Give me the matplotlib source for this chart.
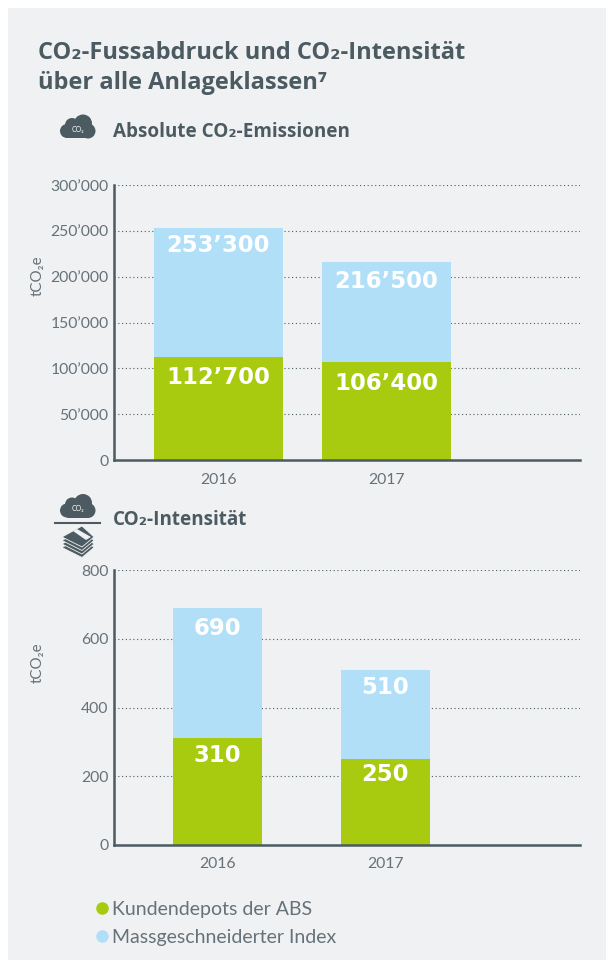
import matplotlib
matplotlib.use("Agg")
import matplotlib.pyplot as plt
from matplotlib.patches import Rectangle, Circle, Polygon
from matplotlib.lines import Line2D

W, H = 606, 960
plt.rcParams['font.family'] = ['Lato', 'Noto Sans', 'DejaVu Sans']
HEAD = ['Open Sans', 'DejaVu Sans']
VALF = ['DejaVu Sans']

years = ['2016', '2017']
abs_green = [112700, 106400]
abs_total = [253300, 216500]
int_green = [310, 250]
int_total = [690, 510]
abs_ticks = [0, 50000, 100000, 150000, 200000, 250000, 300000]
int_ticks = [0, 200, 400, 600, 800]
GREEN = '#a8ca0f'
BLUE = '#b1dff8'
DARK = '#4c5b62'
GREY = '#667279'
BG = '#f0f1f3'

def fmt(v):
    return f'{v:,}'.replace(',', '’')

fig = plt.figure(figsize=(W/100, H/100), dpi=100, facecolor='white')
bg = fig.add_axes([0, 0, 1, 1], zorder=0)
bg.set_xlim(0, W); bg.set_ylim(H, 0); bg.axis('off')
bg.add_patch(Rectangle((8, 8), W-8, H-8, fc=BG, ec='none'))

def panel(top, bottom, left, right, green, total, ticks, ymax, width, xlim, lab_green, lab_total, ylab_y):
    ax = fig.add_axes([left/W, 1-bottom/H, (right-left)/W, (bottom-top)/H], zorder=2)
    ax.patch.set_alpha(0)
    x = list(range(len(green)))
    blue = [t-g for t, g in zip(total, green)]
    ax.bar(x, green, width, color=GREEN, zorder=3)
    ax.bar(x, blue, width, bottom=green, color=BLUE, zorder=3)
    ax.set_xlim(*xlim); ax.set_ylim(0, ymax)
    ax.set_xticks(x, years)
    ax.set_yticks(ticks, [fmt(t) for t in ticks])
    ax.tick_params(length=0, labelsize=11.3, labelcolor=GREY)
    ax.tick_params(axis='x', pad=9)
    ax.tick_params(axis='y', pad=4)
    ax.grid(axis='y', color=DARK, ls=(0, (1, 2.4)), lw=0.8, zorder=1)
    ax.set_axisbelow(True)
    for s in ('top', 'right'):
        ax.spines[s].set_visible(False)
    for s in ('left', 'bottom'):
        ax.spines[s].set_color(DARK)
        ax.spines[s].set_linewidth(1.8)
        ax.spines[s].set_zorder(4)
    for i in x:
        ax.text(i, lab_green[i], fmt(green[i]), ha='center', va='center', color='white',
                fontsize=16.4, fontweight='bold', family=VALF, zorder=5)
        ax.text(i, lab_total[i], fmt(total[i]), ha='center', va='center', color='white',
                fontsize=16.4, fontweight='bold', family=VALF, zorder=5)
    fig.text(38/W, 1-ylab_y/H, 'tCO₂e', rotation=90, ha='center', va='center', fontsize=10.8, color=GREY)
    return ax

ax1 = panel(185, 460, 114, 580, abs_green, abs_total, abs_ticks, 300000, 0.768, (-0.622, 2.152),
            [90500, 84000], [234500, 194200], 276)
ax2 = panel(570, 845, 114, 580, int_green, int_total, int_ticks, 800, 0.53, (-0.616, 2.158),
            [259, 204], [631, 457], 663)

# Headings
fig.text(38/W, 1-53/H, 'CO₂-Fussabdruck und CO₂-Intensität', fontsize=17, fontweight='bold', color=DARK, va='center', family=HEAD)
fig.text(38/W, 1-83/H, 'über alle Anlageklassen⁷', fontsize=17, fontweight='bold', color=DARK, va='center', family=HEAD)
fig.text(113/W, 1-132/H, 'Absolute CO₂-Emissionen', fontsize=13.6, fontweight='bold', color=DARK, va='center', family=HEAD)
fig.text(113/W, 1-520/H, 'CO₂-Intensität', fontsize=13.6, fontweight='bold', color=DARK, va='center', family=HEAD)

# Icons
ic = fig.add_axes([0, 0, 1, 1], zorder=3)
ic.set_xlim(0, W); ic.set_ylim(H, 0); ic.axis('off'); ic.patch.set_alpha(0)

def cloud(cx, top):
    for dx, dy, r in [(-11, 16.5, 7), (-6, 10.5, 7), (5, 9, 9), (10, 16.5, 7.5)]:
        ic.add_patch(Circle((cx+dx, top+dy), r, fc=DARK, ec='none'))
    ic.add_patch(Rectangle((cx-11, top+12), 21, 11.5, fc=DARK, ec='none'))
    ic.text(cx, top+15, 'CO₂', color='white', fontsize=5, ha='center', va='center')

cloud(78, 114.5)
cloud(78, 494)
ic.add_line(Line2D([55, 100], [522.5, 522.5], color=DARK, lw=1.5))
for off in (10.5, 7, 3.5, 0):
    ic.add_patch(Polygon([[62, 537+off], [82, 526+off], [94, 537+off], [82, 547+off]], closed=True,
                         fc=DARK, ec=BG, lw=0.6))
ic.add_patch(Polygon([[73, 531], [77, 529], [91, 537], [86, 540]], closed=True, fc=BG, ec='none'))

# Legend
handles = [Line2D([], [], ls='', marker='o', ms=8, color=GREEN, label='Kundendepots der ABS'),
           Line2D([], [], ls='', marker='o', ms=8, color=BLUE, label='Massgeschneiderter Index')]
fig.legend(handles=handles, loc='upper left', bbox_to_anchor=(94/W, 1-901/H), frameon=False,
           fontsize=14, labelcolor=GREY, handlelength=0.8, handletextpad=0.12, labelspacing=0.55,
           borderpad=0, borderaxespad=0)

fig.savefig('out.png', dpi=100, facecolor='white')
